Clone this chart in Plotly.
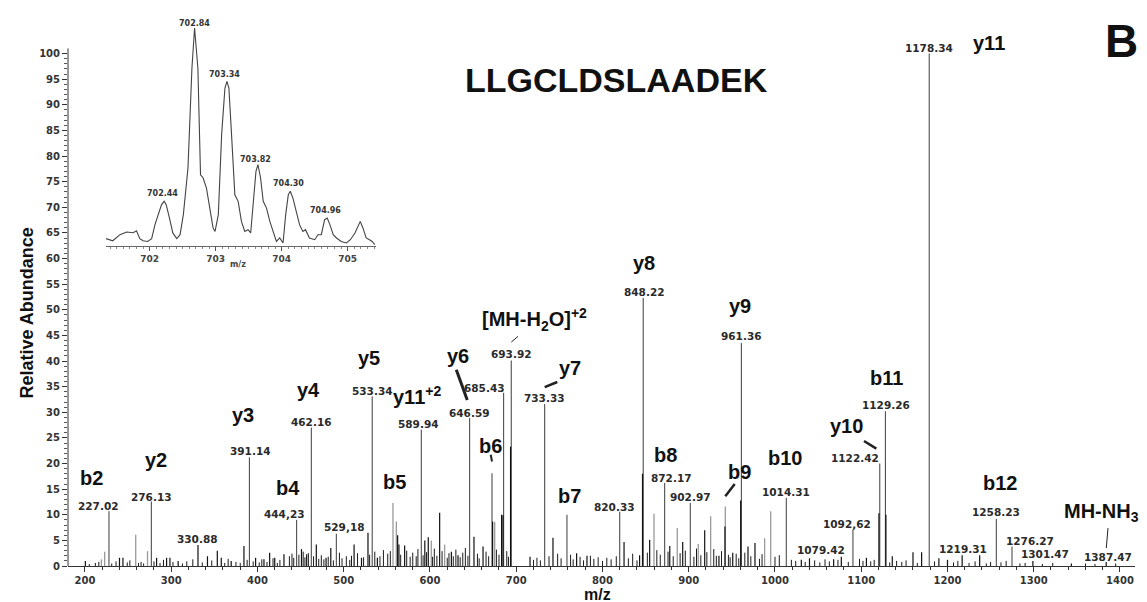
import plotly.graph_objects as go

# ---------------- main spectrum data (m/z, relative abundance %) ----------------
tall_mz = [227.8, 276.9, 390.6, 445.4, 462.4, 491.4, 533.0, 589.9, 646.0, 671.9,
           685.4, 694.2, 733.0, 758.8, 820.0, 847.2, 872.1, 901.8, 961.0, 1013.1,
           1090.4, 1121.5, 1128.0, 1178.8, 1256.6, 1274.8]
tall_int = [10.7, 12.6, 21.2, 9.0, 27.0, 6.3, 33.1, 26.6, 28.9, 18.1,
            33.8, 40.1, 31.6, 10.0, 10.6, 52.3, 16.2, 12.3, 43.5, 13.3,
            7.1, 20.0, 30.2, 100.0, 9.2, 3.8]

dark_mz = [200.4, 240, 244, 283, 294.6, 298.5, 308, 331.0, 342, 353.4,
           358, 369.5, 384.3, 397.8, 407.5, 414.1, 420, 430.7, 451, 457,
           468.2, 479.5, 485, 512, 520.6, 528.1, 539, 562.5, 564, 570.6,
           594, 598, 611.2, 624.8, 632.5, 651, 661.5, 672.6, 683, 684.6,
           693.4, 716, 742.6, 770, 782, 825, 843, 846.4, 854.7, 878,
           893, 918.5, 935, 942.0, 951, 960.2, 968.7, 976.8, 1030.5, 1040,
           1068, 1076.9, 1106, 1120.5, 1128.6, 1136, 1160, 1170, 1190, 1200,
           1217, 1237.3, 1299, 1343.6, 1384]
dark_int = [1.0, 1.6, 1.6, 1.6, 1.6, 1.6, 1.0, 4.1, 1.9, 3.0,
            1.6, 1.0, 3.9, 1.6, 1.3, 2.6, 1.6, 2.3, 3.3, 2.3,
            4.2, 1.6, 3.5, 4.2, 1.6, 6.5, 1.6, 6.0, 4.2, 4.0,
            5.0, 5.6, 10.4, 2.8, 2.1, 5.7, 3.8, 8.7, 10.0, 9.9,
            23.3, 1.8, 5.5, 2.5, 2.0, 4.7, 2.1, 18.0, 5.1, 3.9,
            4.7, 7.0, 2.0, 7.7, 2.6, 12.8, 3.8, 4.5, 1.2, 1.5,
            1.3, 1.8, 1.6, 10.3, 10.0, 1.9, 2.7, 2.7, 1.5, 1.2,
            2.1, 2.1, 1.0, 0.5, 0.8]

gray_mz = [219, 222.8, 258.8, 272.5, 557.1, 561, 601.5, 617, 675, 859.7,
           886.7, 911, 925.4, 942.4, 988, 995]
gray_int = [1.3, 2.8, 6.1, 2.9, 12.3, 8.7, 5.0, 4.2, 8.6, 10.2,
            7.4, 4.3, 9.7, 11.6, 5.4, 10.7]

noise_mz = [205, 212, 216, 231, 236, 249, 252, 262, 265, 268,
            280, 287, 291, 302, 313, 318, 325, 336, 347, 362,
            366, 375, 380, 388, 395, 402, 405, 411, 418, 423,
            426, 437, 440, 442, 448, 453, 455, 459, 465, 471,
            474, 477, 482, 488, 495, 498, 503, 507, 509, 516,
            523, 530, 536, 542, 546, 551, 554, 566, 573, 577,
            580, 584, 586, 592, 596, 603, 605, 608, 614, 620,
            622, 627, 630, 635, 638, 641, 644, 655, 657, 665,
            668, 677, 680, 689, 691, 720, 724, 728, 738, 748,
            752, 763, 766, 774, 778, 786, 790, 795, 800, 805,
            810, 816, 830, 835, 840, 852, 863, 867, 876, 882,
            890, 896, 906, 909, 914, 921, 929, 932, 938, 946,
            948, 955, 958, 965, 972, 982, 985, 1000, 1005, 1019,
            1024, 1035, 1046, 1052, 1058, 1063, 1073, 1085, 1098, 1102,
            1111, 1115, 1133, 1141, 1147, 1152, 1165, 1185, 1207, 1212,
            1225, 1232, 1245, 1250, 1262, 1268, 1284, 1290, 1310, 1322,
            1360, 1371, 1395]
noise_int = [0.4, 0.6, 0.8, 0.5, 0.9, 0.7, 1.1, 0.6, 0.8, 0.5,
             0.9, 0.6, 1.2, 0.8, 0.5, 0.9, 1.3, 0.7, 1.1, 0.6,
             1.4, 0.8, 0.6, 1.2, 0.9, 0.7, 1.3, 0.8, 1.5, 0.6,
             1.2, 1.9, 2.4, 1.6, 2.2, 2.8, 1.7, 2.5, 1.9, 1.4,
             2.1, 1.3, 1.8, 1.1, 2.6, 1.5, 1.9, 1.2, 2.0, 2.5,
             1.7, 2.2, 2.8, 1.9, 3.1, 2.4, 2.9, 2.2, 3.0, 1.8,
             2.6, 1.9, 3.3, 2.1, 2.7, 1.8, 3.4, 2.0, 2.9, 1.6,
             2.5, 1.9, 3.2, 1.7, 2.6, 3.5, 2.0, 2.4, 1.5, 2.8,
             1.9, 3.2, 2.2, 2.9, 1.8, 1.2, 1.6, 1.1, 1.9, 2.4,
             1.5, 2.2, 1.3, 1.8, 1.1, 2.0, 1.4, 1.7, 1.0, 1.6,
             1.3, 1.9, 1.5, 2.4, 1.1, 2.6, 3.1, 2.2, 2.8, 1.9,
             2.5, 3.0, 1.8, 3.4, 2.1, 2.7, 3.3, 2.0, 2.9, 2.2,
             1.7, 2.4, 1.5, 2.6, 1.9, 1.4, 2.3, 1.8, 2.1, 1.2,
             1.0, 0.8, 1.1, 0.7, 1.3, 0.9, 1.2, 0.8, 1.4, 1.0,
             0.9, 1.2, 0.7, 1.0, 0.8, 1.1, 0.6, 0.9, 0.7, 1.0,
             0.6, 0.9, 0.5, 0.8, 0.7, 1.0, 0.5, 0.6, 0.4, 0.6,
             0.5, 0.4, 0.5]

# ---------------- inset (isotope cluster of [MH-H2O]+2) ----------------
inset_mz = [701.34, 701.44, 701.55, 701.65, 701.75, 701.80, 701.85, 701.90, 701.97, 702.03,
            702.08, 702.13, 702.18, 702.22, 702.25, 702.30, 702.35, 702.41, 702.46, 702.51,
            702.55, 702.58, 702.61, 702.64, 702.68, 702.73, 702.77, 702.81, 702.86, 702.91,
            702.96, 702.99, 703.04, 703.09, 703.14, 703.17, 703.20, 703.24, 703.29, 703.34,
            703.39, 703.44, 703.49, 703.53, 703.57, 703.61, 703.64, 703.68, 703.72, 703.77,
            703.82, 703.87, 703.92, 703.97, 704.02, 704.06, 704.10, 704.13, 704.17, 704.22,
            704.27, 704.32, 704.36, 704.42, 704.50, 704.55, 704.60, 704.65, 704.69, 704.73,
            704.78, 704.83, 704.90, 704.98, 705.04, 705.11, 705.16, 705.19, 705.23, 705.28,
            705.33, 705.37, 705.41]
inset_int = [3.4, 2.4, 5.2, 6.4, 6.1, 7.0, 3.4, 2.4, 2.1, 3.4,
             9.8, 14.4, 19.0, 20.5, 19.0, 12.8, 6.0, 3.4, 5.2, 14.4,
             28.1, 35.8, 58.7, 81.7, 100.0, 81.7, 32.7, 31.2, 26.6, 17.4,
             8.3, 6.7, 14.4, 51.1, 72.5, 75.5, 72.5, 51.1, 23.5, 20.5,
             11.3, 6.7, 7.5, 6.0, 20.5, 34.3, 37.3, 31.2, 20.5, 17.4,
             11.3, 6.7, 2.1, 3.7, 1.4, 14.4, 23.5, 25.1, 22.0, 15.9,
             9.8, 6.7, 7.5, 3.7, 2.9, 5.2, 5.2, 12.1, 12.8, 9.8,
             5.2, 3.7, 2.1, 1.4, 2.9, 6.0, 9.8, 11.3, 8.3, 3.7,
             2.9, 2.1, 0.6]
inset_ticks = [702, 703, 704, 705]
inset_labels = ["702.44", "702.84", "703.34", "703.82", "704.30", "704.96"]
inset_label_x = [702.19, 702.68, 703.13, 703.61, 704.11, 704.66]
inset_label_y = [24.3, 102.3, 78.9, 39.9, 28.9, 16.5]

# ---------------- annotation texts ----------------
ion_text = ["b2", "y2", "y3", "b4", "y4", "y5", "b5", "y11<sup>+2</sup>", "y6",
            "[MH-H<sub>2</sub>O]<sup>+2</sup>", "b6", "y7", "b7", "y8", "b8", "y9", "b9",
            "b10", "y10", "b11", "y11", "b12", "MH-NH<sub>3</sub>"]
ion_x = [207.3, 282.7, 383.2, 435.4, 458.6, 528.9, 558.3, 585.0, 632.5,
         721.4, 670.4, 762.0, 762.0, 848.1, 873.0, 959.1, 959.1,
         1011.2, 1082.7, 1129.0, 1248.1, 1261.2, 1378.5]
ion_y = [17.2, 20.7, 29.5, 15.2, 34.4, 40.6, 16.4, 33.2, 40.9,
         48.1, 23.4, 38.6, 13.6, 59.1, 21.7, 50.7, 18.3,
         21.1, 27.3, 36.7, 102.0, 16.2, 10.5]

num_text = ["227.02", "276.13", "330.88", "391.14", "444,23", "462.16", "529,18", "533.34",
            "589.94", "685.43", "646.59", "693.92", "733.33", "820.33", "848.22", "961.36",
            "872.17", "902.97", "1014.31", "1092,62", "1079.42", "1122.42", "1129.26",
            "1178.34", "1219.31", "1258.23", "1276.27", "1301.47", "1387.47"]
num_x = [215.1, 276.9, 331.0, 391.7, 431.5, 462.4, 501.1, 533.9,
         586.1, 663.4, 646.0, 694.3, 733.0, 814.1, 848.5, 960.9,
         879.8, 901.8, 1013.1, 1083.8, 1053.7, 1092.4, 1129.0,
         1179.1, 1218.0, 1256.6, 1295.3, 1312.7, 1386.1]
num_y = [11.8, 13.5, 5.3, 22.4, 10.1, 28.1, 7.6, 34.2,
         27.7, 34.7, 29.9, 41.4, 32.8, 11.6, 53.5, 44.8,
         17.2, 13.5, 14.4, 8.1, 3.2, 21.1, 31.5,
         101.1, 3.3, 10.5, 4.9, 2.3, 1.7]

# leader lines: (x0, y0, x1, y1, width)
leaders = [(630.5, 38.3, 643.2, 32.4, 3),
           (694.3, 43.7, 702.0, 44.8, 1),
           (670.4, 21.7, 671.9, 20.4, 2),
           (733.0, 34.9, 747.6, 35.9, 2.5),
           (942.4, 13.6, 953.3, 16.0, 2.5),
           (1103.2, 24.4, 1117.5, 22.9, 2.5),
           (1386.1, 7.4, 1384.1, 3.5, 1)]


def sticks(mz, inten):
    xs, ys = [], []
    for m, v in zip(mz, inten):
        xs += [m, m, None]
        ys += [0, v, None]
    return xs, ys


fig = go.Figure()
for mz, it, col, w in [(noise_mz, noise_int, "#1a1a1a", 1),
                       (gray_mz, gray_int, "#9a9a9a", 1.3),
                       (tall_mz, tall_int, "#3c3c3c", 1),
                       (dark_mz, dark_int, "#111111", 1.2)]:
    xs, ys = sticks(mz, it)
    fig.add_trace(go.Scatter(x=xs, y=ys, mode="lines", line=dict(color=col, width=w),
                             hoverinfo="skip", xaxis="x", yaxis="y"))

fig.add_trace(go.Scatter(x=inset_mz, y=inset_int, mode="lines",
                         line=dict(color="#444", width=1.1), xaxis="x2", yaxis="y2",
                         hoverinfo="skip"))

tickfont = dict(family="DejaVu Sans", size=10, color="#333", weight="bold")
minor_x = [v for v in range(200, 1401, 20) if v % 100]

fig.update_layout(
    width=1147, height=602,
    margin=dict(l=60, r=20, t=10, b=44),
    paper_bgcolor="white", plot_bgcolor="white", showlegend=False,
    xaxis=dict(range=[180.3, 1417.4], tickmode="array", tickvals=list(range(200, 1401, 100)),
               ticks="outside", ticklen=5, tickcolor="#333", showline=True, linecolor="#333",
               linewidth=1, showgrid=False, zeroline=False, tickfont=tickfont,
               minor=dict(tickmode="array", tickvals=minor_x, ticks="outside", ticklen=3,
                          tickcolor="#333")),
    yaxis=dict(range=[0, 106.93], tickmode="array", tickvals=list(range(0, 101, 5)),
               ticks="outside", ticklen=5, tickcolor="#333", showline=False,
               showgrid=False, zeroline=False, tickfont=tickfont,
               minor=dict(tickmode="array", tickvals=list(range(0, 101)), ticks="outside",
                          ticklen=3, tickcolor="#555")),
    xaxis2=dict(domain=[0.0356, 0.2887], anchor="y2", range=[701.338, 705.429],
                tickmode="array", tickvals=inset_ticks, ticks="outside", ticklen=4,
                tickcolor="#555", showline=True, linecolor="#666", linewidth=1,
                showgrid=False, zeroline=False,
                tickfont=dict(family="DejaVu Sans", size=9, color="#444", weight="bold"),
                minor=dict(dtick=0.1, ticks="outside", ticklen=2, tickcolor="#888")),
    yaxis2=dict(domain=[0.5839, 1.0], anchor="x2", range=[0, 104.6], visible=False),
)

shapes = [dict(type="line", xref="paper", yref="y", x0=0, x1=0, y0=0, y1=101,
               line=dict(color="#333", width=1))]
for x0, y0, x1, y1, w in leaders:
    shapes.append(dict(type="line", xref="x", yref="y", x0=x0, y0=y0, x1=x1, y1=y1,
                       line=dict(color="#222", width=w)))
fig.update_layout(shapes=shapes)

ann = []
for t, x, y in zip(ion_text, ion_x, ion_y):
    ann.append(dict(text="<b>%s</b>" % t, x=x, y=y, xref="x", yref="y", showarrow=False,
                    xanchor="center", yanchor="middle",
                    font=dict(family="Liberation Sans, Arial", size=20, color="#111")))
for t, x, y in zip(num_text, num_x, num_y):
    ann.append(dict(text="<b>%s</b>" % t, x=x, y=y, xref="x", yref="y", showarrow=False,
                    xanchor="center", yanchor="middle",
                    font=dict(family="DejaVu Sans", size=10.5, color="#2a2a2a")))
for t, x, y in zip(inset_labels, inset_label_x, inset_label_y):
    ann.append(dict(text="<b>%s</b>" % t, x=x, y=y, xref="x2", yref="y2", showarrow=False,
                    xanchor="center", yanchor="middle",
                    font=dict(family="DejaVu Sans", size=8, color="#333")))
ann += [
    dict(text="<b>m/z</b>", x=0.15, y=0.551, xref="paper", yref="paper", showarrow=False,
         font=dict(family="DejaVu Sans", size=8, color="#444")),
    dict(text="<b>LLGCLDSLAADEK</b>", x=0.5145, y=0.8874, xref="paper", yref="paper",
         showarrow=False, xanchor="center", yanchor="middle",
         font=dict(family="Liberation Sans, Arial", size=34, color="#111")),
    dict(text="<b>B</b>", x=0.9878, y=0.958, xref="paper", yref="paper", showarrow=False,
         xanchor="center", yanchor="middle",
         font=dict(family="Liberation Sans, Arial", size=46, color="#111")),
    dict(text="<b>Relative Abundance</b>", x=-0.0384, y=0.4608, xref="paper", yref="paper",
         showarrow=False, textangle=-90, xanchor="center", yanchor="middle",
         font=dict(family="Liberation Sans, Arial", size=18, color="#111")),
    dict(text="<b>m/z</b>", x=0.4967, y=-0.0511, xref="paper", yref="paper",
         showarrow=False, xanchor="center", yanchor="middle",
         font=dict(family="Liberation Sans, Arial", size=16, color="#111")),
]
fig.update_layout(annotations=ann)

fig.write_html("out.html")
